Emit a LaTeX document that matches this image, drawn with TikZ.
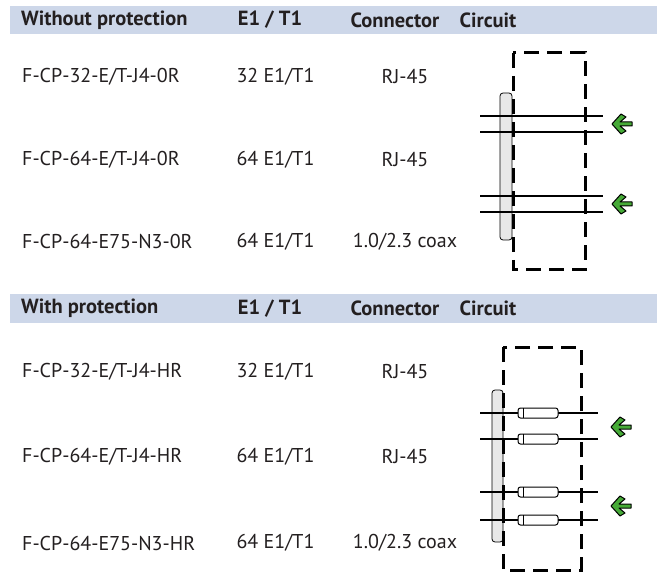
\documentclass[tikz,border=0pt]{standalone}
\usepackage{fontspec}
\setmainfont{PT Sans}
\definecolor{bandblue}{RGB}{205,215,233}
\definecolor{txt}{RGB}{35,31,32}
\definecolor{bargray}{RGB}{232,232,232}
\definecolor{arrowgreen}{RGB}{70,170,55}
\begin{document}
\begin{tikzpicture}[x=1pt,y=-1pt,
  band/.style={fill=bandblue, draw=none},
  hdr/.style={font=\bfseries\fontsize{20.5}{25}\selectfont, text=txt, inner sep=0pt},
  cell/.style={font=\fontsize{20}{24}\selectfont, text=txt, inner sep=0pt},
  dbox/.style={draw=black, line width=3pt, dash pattern=on 15pt off 8pt},
  bar/.style={draw=black, line width=0.8pt, fill=bargray, rounded corners=3pt},
  wire/.style={draw=black, line width=1.2pt},
  res/.style={draw=black, line width=1pt, fill=white, rounded corners=2.5pt},
  greenarrow/.pic={
    \draw[black, line width=1pt, fill=arrowgreen, line join=round]
      (0,0) -- (9,-10) -- (14,-7) -- (8,-2) -- (20,-2) -- (20,2) -- (8,2)
      -- (14,7) -- (9,10) -- cycle;
  }]
\useasboundingbox (0,0) rectangle (657,575);
\fill[white] (0,0) rectangle (657,575);

% ---------- section 1 ----------
\fill[band] (10,6) rectangle (657,34);
\node[hdr, anchor=west] (h1a) at (21,20) {Without protection};
\node[hdr] (h1b) at (270,20) {E1 / T1};
\node[hdr] (h1c) at (395,20) {Connector};
\node[hdr] (h1d) at (488,20) {Circuit};

\node[cell, anchor=west] (r11) at (22,77) {F-CP-32-E/T-J4-0R};
\node[cell] (r12) at (275.5,77) {32 E1/T1};
\node[cell] (r13) at (405,77) {RJ-45};
\node[cell, anchor=west] (r21) at (22,160) {F-CP-64-E/T-J4-0R};
\node[cell] (r22) at (275.5,160) {64 E1/T1};
\node[cell] (r23) at (405,160) {RJ-45};
\node[cell, anchor=west] (r31) at (22,242) {F-CP-64-E75-N3-0R};
\node[cell] (r32) at (275.5,242) {64 E1/T1};
\node[cell] (r33) at (405,242) {1.0/2.3 coax};

\draw[bar] (500,93) rectangle (512,240);
\foreach \yy in {116,132,196,212} \draw[wire] (480,\yy) -- (603,\yy);
\draw[dbox] (513,53) rectangle (585,270);
\pic at (612,124) {greenarrow};
\pic at (612,204) {greenarrow};

% ---------- section 2 ----------
\fill[band] (10,294) rectangle (657,323);
\node[hdr, anchor=west] (h2a) at (21,308.5) {With protection};
\node[hdr] (h2b) at (270,308.5) {E1 / T1};
\node[hdr] (h2c) at (395,308.5) {Connector};
\node[hdr] (h2d) at (488,308.5) {Circuit};

\node[cell, anchor=west] (s11) at (22,372) {F-CP-32-E/T-J4-HR};
\node[cell] (s12) at (275.5,372) {32 E1/T1};
\node[cell] (s13) at (405,372) {RJ-45};
\node[cell, anchor=west] (s21) at (22,457) {F-CP-64-E/T-J4-HR};
\node[cell] (s22) at (275.5,457) {64 E1/T1};
\node[cell] (s23) at (405,457) {RJ-45};
\node[cell, anchor=west] (s31) at (22,543) {F-CP-64-E75-N3-HR};
\node[cell] (s32) at (275.5,543) {64 E1/T1};
\node[cell] (s33) at (405,543) {1.0/2.3 coax};

\draw[bar] (492,390) rectangle (503,542);
\foreach \yy in {413,439,492,520} {
  \draw[wire] (480,\yy) -- (598,\yy);
  \draw[res] (518,\yy-5) rectangle (558,\yy+5);
  \draw[black, line width=0.8pt] (523,\yy-5) -- (523,\yy+5);
}
\draw[dbox] (503,347) rectangle (581,570);
\pic at (611,427) {greenarrow};
\pic at (611,506) {greenarrow};
\end{tikzpicture}
\end{document}
